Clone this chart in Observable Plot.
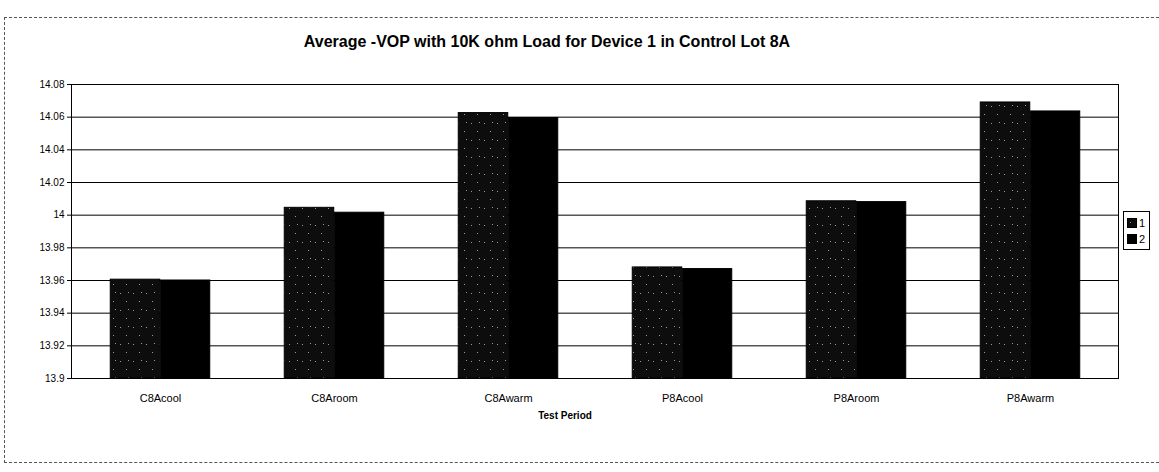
<!DOCTYPE html>
<html><head><meta charset="utf-8">
<script src="https://cdn.jsdelivr.net/npm/d3@7"></script>
<script src="https://cdn.jsdelivr.net/npm/@observablehq/plot@0.6"></script>
<style>
body{margin:0;background:#fff;font-family:"Liberation Sans",Arial,sans-serif;color:#000;}
#wrap{position:relative;width:1159px;height:472px;overflow:hidden;background:#fff;}
#border{position:absolute;left:4px;top:17px;width:1180px;height:446px;border:1px dashed #555;box-sizing:border-box;}
#title{position:absolute;top:33px;left:0;width:1094px;text-align:center;font-weight:bold;font-size:16px;}
#chart{position:absolute;left:0;top:0;}
#xlabel{position:absolute;top:410px;left:0;width:1130px;text-align:center;font-weight:bold;font-size:10px;}
#legend{position:absolute;left:1123px;top:211px;border:1px solid #000;padding:3px 4px 2px 3px;font-size:11px;line-height:16px;background:#fff;}
#legend .row{display:flex;align-items:center;gap:2px;}
</style>
</head><body>
<div id="wrap">
  <div id="border"></div>
  <div id="title"></div>
  <div id="chart"></div>
  <div id="xlabel"></div>
  <div id="legend"></div>
</div>
<script>
const titleText = "Average -VOP with 10K ohm Load for Device 1 in Control Lot 8A";
const xAxisTitle = "Test Period";
const categories = ["C8Acool", "C8Aroom", "C8Awarm", "P8Acool", "P8Aroom", "P8Awarm"];
const seriesNames = ["1", "2"];
const series1 = [13.9605, 14.0045, 14.0625, 13.968, 14.0085, 14.069];
const series2 = [13.9600, 14.0015, 14.0595, 13.967, 14.0080, 14.0635];
const yTicks = [13.9, 13.92, 13.94, 13.96, 13.98, 14.0, 14.02, 14.04, 14.06, 14.08];

document.getElementById("title").textContent = titleText;
document.getElementById("xlabel").textContent = xAxisTitle;

const W = 1159, H = 430, mL = 71, mR = 41, mT = 84, mB = 52;
const step = (W - mL - mR) / categories.length;
const barW = 50;
const yMin = yTicks[0], yMax = yTicks[yTicks.length - 1];

const data1 = categories.map((c, i) => ({cat: c, value: series1[i], s: seriesNames[0]}));
const data2 = categories.map((c, i) => ({cat: c, value: series2[i], s: seriesNames[1]}));

const NS = "http://www.w3.org/2000/svg";
function defsMark() {
  const defs = document.createElementNS(NS, "defs");
  const pat = document.createElementNS(NS, "pattern");
  pat.setAttribute("id", "stip");
  pat.setAttribute("patternUnits", "userSpaceOnUse");
  pat.setAttribute("width", "13");
  pat.setAttribute("height", "17");
  const bg = document.createElementNS(NS, "rect");
  bg.setAttribute("width", "13"); bg.setAttribute("height", "17"); bg.setAttribute("fill", "#0d0d0d");
  pat.appendChild(bg);
  [[3,4],[9,12],[11,3]].forEach(([x,y]) => {
    const r = document.createElementNS(NS, "rect");
    r.setAttribute("x", x); r.setAttribute("y", y);
    r.setAttribute("width", "1"); r.setAttribute("height", "1");
    r.setAttribute("fill", "#999");
    pat.appendChild(r);
  });
  defs.appendChild(pat);
  return defs;
}

const fmt = d => String(+d.toFixed(2));

const chart = Plot.plot({
  width: W, height: H,
  marginLeft: mL, marginRight: mR, marginTop: mT, marginBottom: mB,
  style: {fontFamily: '"Liberation Sans", Arial, sans-serif', fontSize: "10px", color: "#000", background: "transparent"},
  x: {domain: categories, padding: 0, tickSize: 0, tickPadding: 16, label: null},
  y: {domain: [yMin, yMax], ticks: yTicks, tickFormat: fmt, tickSize: 4, tickPadding: 3, label: null},
  marks: [
    defsMark,
    Plot.ruleY(yTicks, {stroke: "#000", strokeWidth: 1}),
    Plot.barY(data1, {x: "cat", y1: yMin, y2: "value", fill: "url(#stip)", stroke: "#000", strokeWidth: 1,
      insetLeft: step / 2 - barW, insetRight: step / 2}),
    Plot.barY(data2, {x: "cat", y1: yMin, y2: "value", fill: "#000", stroke: "#000", strokeWidth: 1,
      insetLeft: step / 2, insetRight: step / 2 - barW}),
    Plot.frame({stroke: "#000", strokeWidth: 1})
  ]
});
chart.querySelectorAll('g[aria-label="x-axis tick label"] text, g[aria-label="x-axis tick label"]').forEach(el => el.setAttribute("font-size", "11"));
document.getElementById("chart").appendChild(chart);

const legend = document.getElementById("legend");
seriesNames.forEach((name, i) => {
  const row = document.createElement("div");
  row.className = "row";
  const sw = document.createElementNS(NS, "svg");
  sw.setAttribute("width", "10"); sw.setAttribute("height", "10");
  const r = document.createElementNS(NS, "rect");
  r.setAttribute("x", "0.5"); r.setAttribute("y", "0.5");
  r.setAttribute("width", "9"); r.setAttribute("height", "9");
  r.setAttribute("fill", i === 0 ? "url(#stip)" : "#000");
  r.setAttribute("stroke", "#000");
  sw.appendChild(r);
  const t = document.createElement("span");
  t.textContent = name;
  row.appendChild(sw); row.appendChild(t);
  legend.appendChild(row);
});
</script>
</body></html>
